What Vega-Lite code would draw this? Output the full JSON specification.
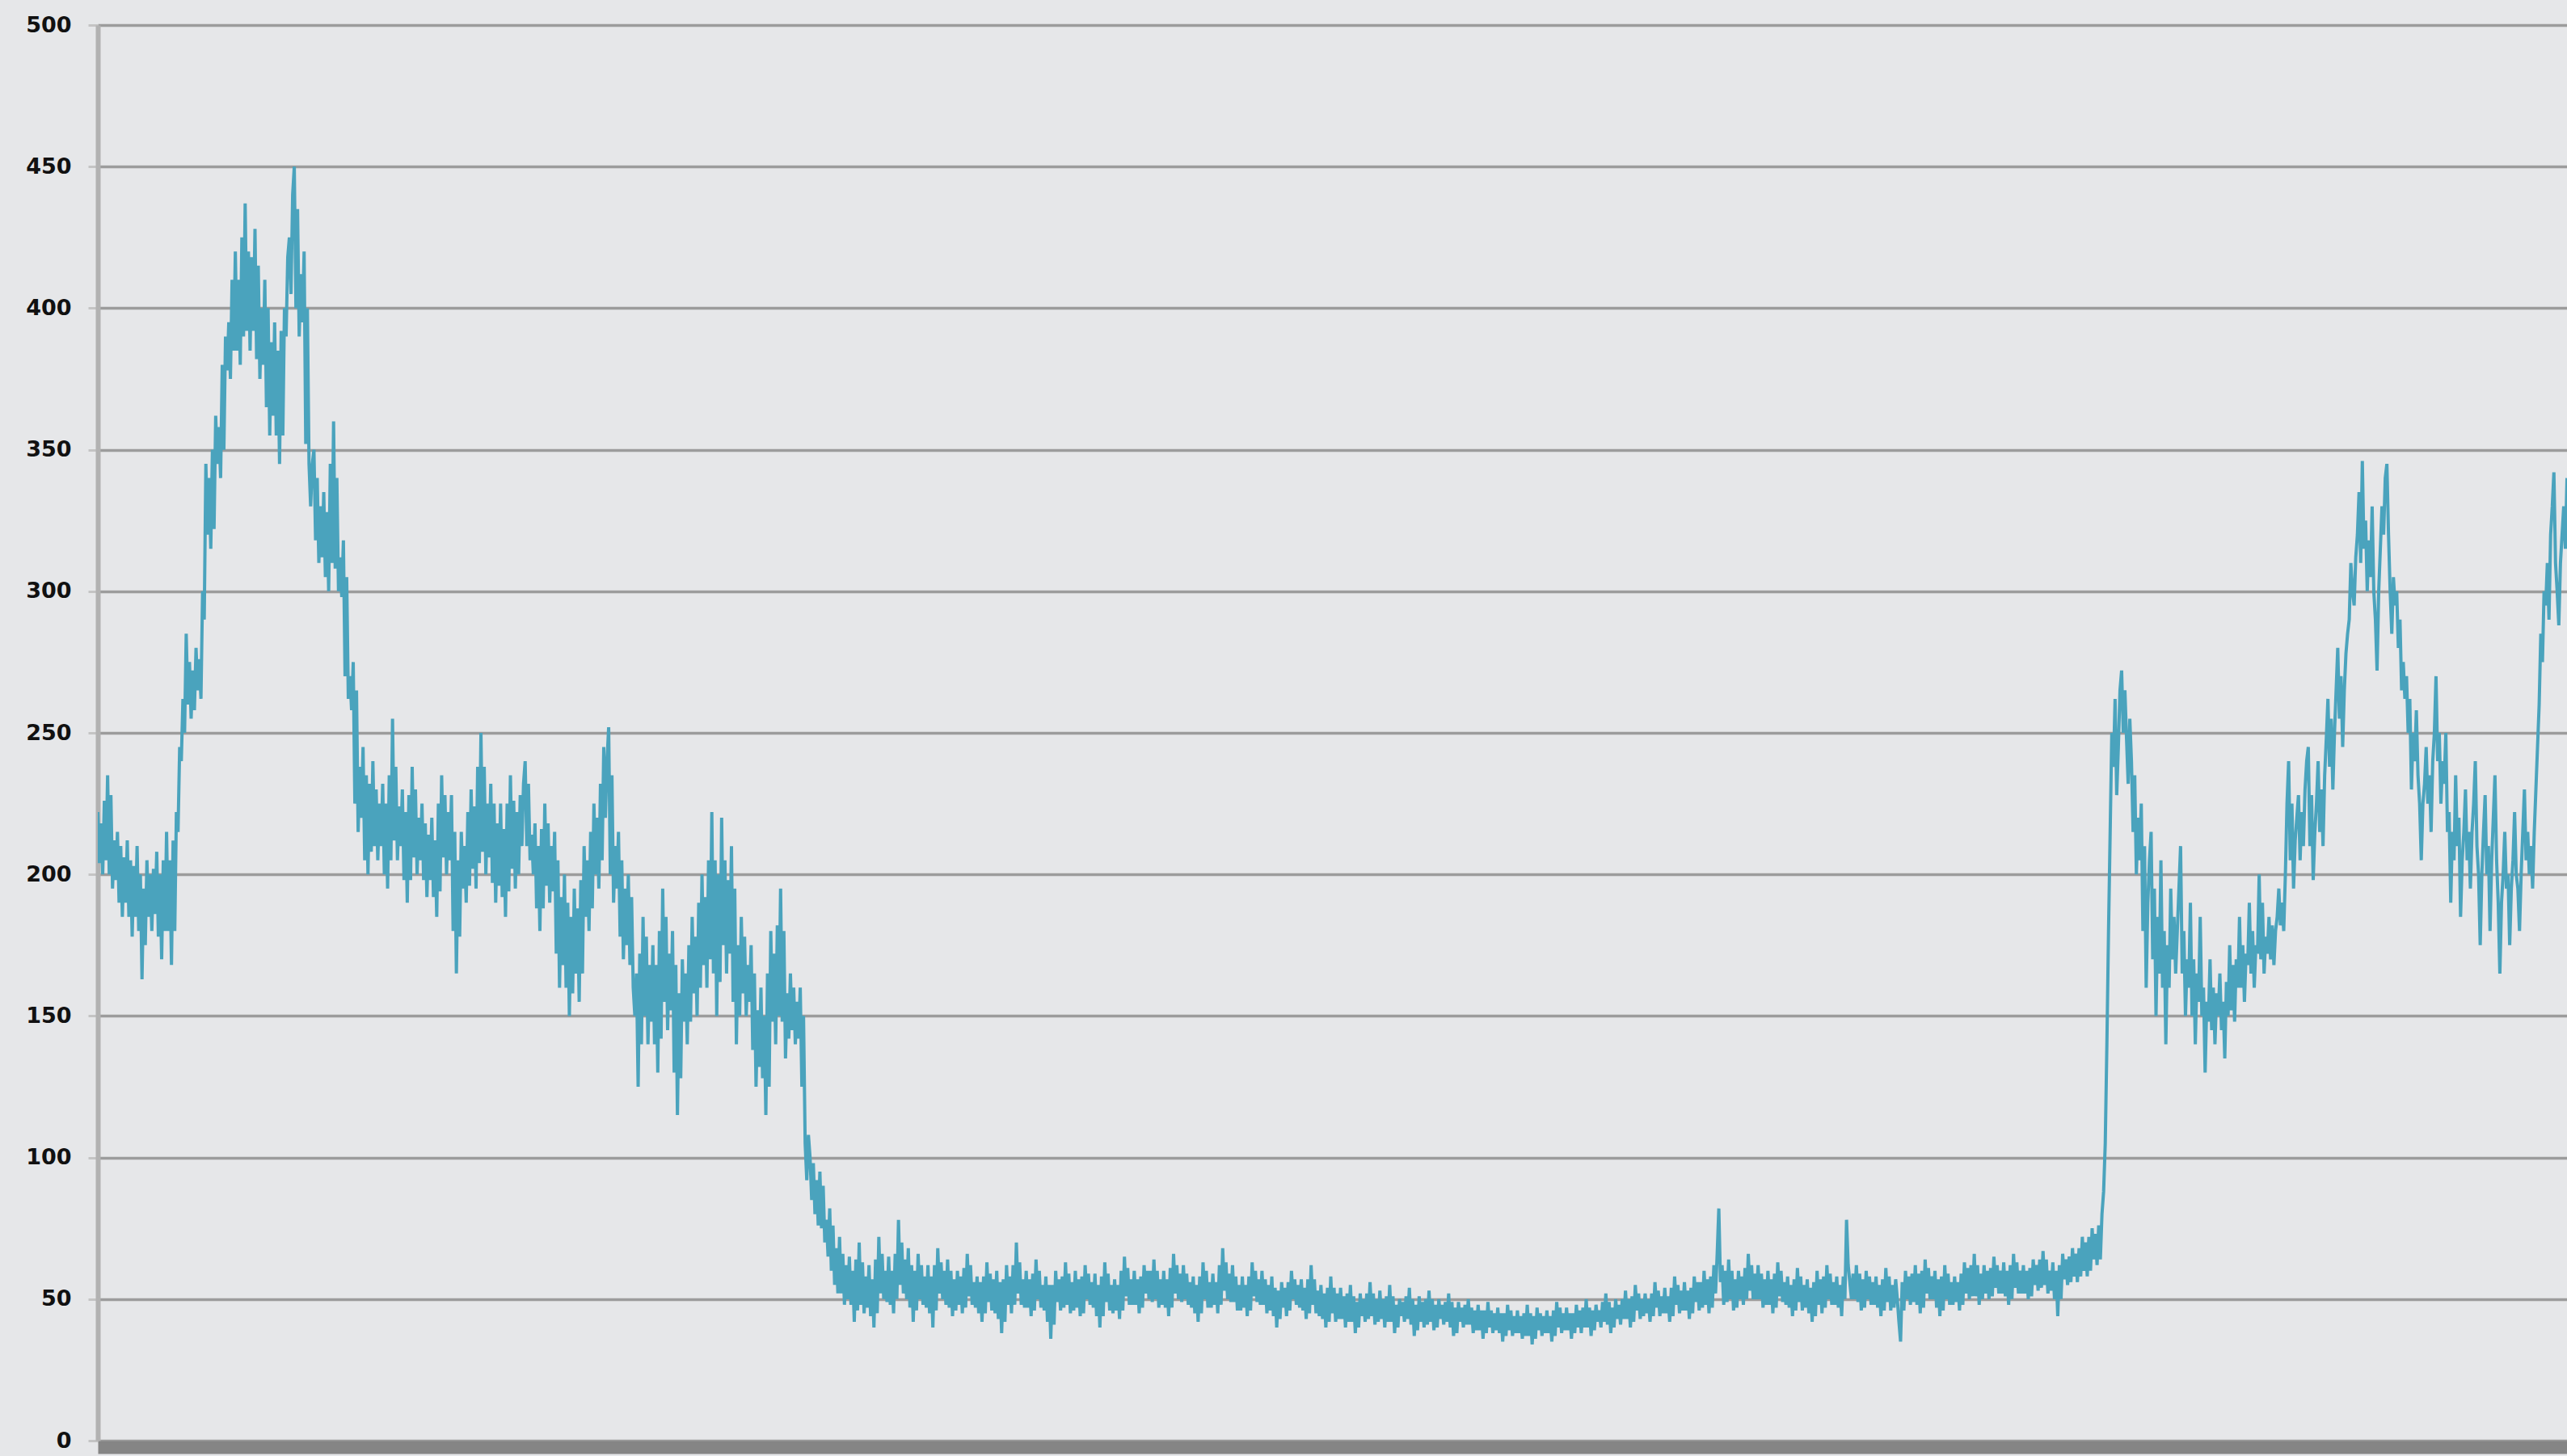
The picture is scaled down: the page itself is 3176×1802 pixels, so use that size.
{
  "$schema": "https://vega.github.io/schema/vega-lite/v6.json",
  "width": 3055,
  "height": 1752,
  "autosize": {"type": "none"},
  "padding": {"left": 121, "top": 31, "right": 0, "bottom": 19},
  "background": "#e6e7e9",
  "config": {"view": {"stroke": null, "fill": "#e6e7e9"}},
  "data": {"values": [
{"t":60,"v":222},{"t":61,"v":204},{"t":62,"v":218},{"t":63,"v":200},{"t":64,"v":226},{"t":65,"v":205},{"t":66,"v":235},{"t":67,"v":200},{"t":68,"v":228},{"t":69,"v":195},{"t":70,"v":212},{"t":71,"v":198},{"t":72,"v":215},{"t":73,"v":190},{"t":74,"v":210},{"t":75,"v":185},{"t":76,"v":206},{"t":77,"v":190},{"t":78,"v":212},{"t":79,"v":185},{"t":80,"v":205},{"t":81,"v":178},{"t":82,"v":203},{"t":83,"v":185},{"t":84,"v":210},{"t":85,"v":180},{"t":86,"v":200},{"t":87,"v":163},{"t":88,"v":195},{"t":89,"v":175},{"t":90,"v":205},{"t":91,"v":185},{"t":92,"v":200},{"t":93,"v":180},{"t":94,"v":202},{"t":95,"v":186},{"t":96,"v":208},{"t":97,"v":178},{"t":98,"v":200},{"t":99,"v":170},{"t":100,"v":205},{"t":101,"v":180},{"t":102,"v":215},{"t":103,"v":180},{"t":104,"v":205},{"t":105,"v":168},{"t":106,"v":212},{"t":107,"v":180},{"t":108,"v":222},{"t":109,"v":215},{"t":110,"v":245},
{"t":111,"v":240},{"t":112,"v":262},{"t":113,"v":250},{"t":114,"v":285},{"t":115,"v":260},{"t":116,"v":275},{"t":117,"v":255},{"t":118,"v":272},{"t":119,"v":258},{"t":120,"v":280},{"t":121,"v":265},{"t":122,"v":276},{"t":123,"v":262},{"t":124,"v":300},{"t":125,"v":290},{"t":126,"v":345},{"t":127,"v":320},{"t":128,"v":340},{"t":129,"v":315},{"t":130,"v":350},{"t":131,"v":322},{"t":132,"v":362},{"t":133,"v":345},{"t":134,"v":358},{"t":135,"v":340},{"t":136,"v":380},{"t":137,"v":350},{"t":138,"v":390},{"t":139,"v":378},{"t":140,"v":395},{"t":141,"v":375},{"t":142,"v":410},{"t":143,"v":385},{"t":144,"v":420},{"t":145,"v":385},{"t":146,"v":410},{"t":147,"v":380},{"t":148,"v":425},{"t":149,"v":390},{"t":150,"v":437},{"t":151,"v":392},{"t":152,"v":420},{"t":153,"v":385},{"t":154,"v":418},{"t":155,"v":392},{"t":156,"v":428},{"t":157,"v":382},{"t":158,"v":415},{"t":159,"v":375},{"t":160,"v":400},{"t":161,"v":380},{"t":162,"v":410},{"t":163,"v":365},{"t":164,"v":400},{"t":165,"v":355},{"t":166,"v":388},{"t":167,"v":362},{"t":168,"v":395},{"t":169,"v":355},{"t":170,"v":385},{"t":171,"v":345},{"t":172,"v":392},{"t":173,"v":355},{"t":174,"v":400},{"t":175,"v":390},{"t":176,"v":418},{"t":177,"v":425},{"t":178,"v":405},{"t":179,"v":440},{"t":180,"v":450},{"t":181,"v":400},{"t":182,"v":435},{"t":183,"v":390},{"t":184,"v":412},{"t":185,"v":395},{"t":186,"v":420},{"t":187,"v":352},{"t":188,"v":400},{"t":189,"v":345},{"t":190,"v":330},{"t":191,"v":345},{"t":192,"v":350},{"t":193,"v":318},{"t":194,"v":340},{"t":195,"v":310},{"t":196,"v":330},{"t":197,"v":312},{"t":198,"v":335},{"t":199,"v":305},{"t":200,"v":328},{"t":201,"v":300},{"t":202,"v":345},{"t":203,"v":310},{"t":204,"v":360},{"t":205,"v":308},{"t":206,"v":340},{"t":207,"v":300},{"t":208,"v":312},{"t":209,"v":298},{"t":210,"v":318},{"t":211,"v":270},{"t":212,"v":305},{"t":213,"v":262},{"t":214,"v":270},{"t":215,"v":258},{"t":216,"v":275},{"t":217,"v":225},{"t":218,"v":265},{"t":219,"v":215},{"t":220,"v":238},{"t":221,"v":220},{"t":222,"v":245},{"t":223,"v":205},{"t":224,"v":235},{"t":225,"v":200},{"t":226,"v":232},{"t":227,"v":208},{"t":228,"v":240},{"t":229,"v":210},{"t":230,"v":230},{"t":231,"v":205},{"t":232,"v":225},{"t":233,"v":210},{"t":234,"v":232},{"t":235,"v":200},{"t":236,"v":225},{"t":237,"v":195},{"t":238,"v":235},{"t":239,"v":205},{"t":240,"v":255},{"t":241,"v":212},{"t":242,"v":238},{"t":243,"v":205},{"t":244,"v":224},{"t":245,"v":210},{"t":246,"v":230},{"t":247,"v":198},{"t":248,"v":222},{"t":249,"v":190},{"t":250,"v":228},{"t":251,"v":198},{"t":252,"v":238},{"t":253,"v":206},{"t":254,"v":230},{"t":255,"v":200},{"t":256,"v":220},{"t":257,"v":205},{"t":258,"v":225},{"t":259,"v":198},{"t":260,"v":218},{"t":261,"v":192},{"t":262,"v":214},{"t":263,"v":198},{"t":264,"v":220},{"t":265,"v":192},{"t":266,"v":212},{"t":267,"v":185},{"t":268,"v":225},{"t":269,"v":194},{"t":270,"v":235},{"t":271,"v":206},{"t":272,"v":228},{"t":273,"v":200},{"t":274,"v":222},{"t":275,"v":205},{"t":276,"v":228},{"t":277,"v":180},{"t":278,"v":215},{"t":279,"v":165},{"t":280,"v":205},{"t":281,"v":178},{"t":282,"v":215},{"t":283,"v":195},{"t":284,"v":210},{"t":285,"v":190},{"t":286,"v":222},{"t":287,"v":196},{"t":288,"v":230},{"t":289,"v":202},{"t":290,"v":224},{"t":291,"v":195},{"t":292,"v":238},{"t":293,"v":204},{"t":294,"v":250},{"t":295,"v":208},{"t":296,"v":238},{"t":297,"v":200},{"t":298,"v":225},{"t":299,"v":206},{"t":300,"v":232},{"t":301,"v":197},{"t":302,"v":225},{"t":303,"v":190},{"t":304,"v":218},{"t":305,"v":196},{"t":306,"v":225},{"t":307,"v":192},{"t":308,"v":216},{"t":309,"v":185},{"t":310,"v":225},{"t":311,"v":194},{"t":312,"v":235},{"t":313,"v":202},{"t":314,"v":226},{"t":315,"v":195},{"t":316,"v":222},{"t":317,"v":200},{"t":318,"v":228},{"t":319,"v":210},{"t":320,"v":232},{"t":321,"v":240},{"t":322,"v":210},{"t":323,"v":232},{"t":324,"v":205},{"t":325,"v":214},{"t":326,"v":200},{"t":327,"v":218},{"t":328,"v":188},{"t":329,"v":210},{"t":330,"v":180},{"t":331,"v":216},{"t":332,"v":188},{"t":333,"v":225},{"t":334,"v":196},{"t":335,"v":218},{"t":336,"v":190},{"t":337,"v":210},{"t":338,"v":194},{"t":339,"v":215},{"t":340,"v":172},{"t":341,"v":205},{"t":342,"v":160},{"t":343,"v":192},{"t":344,"v":168},{"t":345,"v":200},{"t":346,"v":160},{"t":347,"v":190},{"t":348,"v":150},{"t":349,"v":185},{"t":350,"v":158},{"t":351,"v":195},{"t":352,"v":165},{"t":353,"v":188},{"t":354,"v":155},{"t":355,"v":198},{"t":356,"v":165},{"t":357,"v":210},{"t":358,"v":185},{"t":359,"v":205},{"t":360,"v":180},{"t":361,"v":215},{"t":362,"v":188},{"t":363,"v":225},{"t":364,"v":200},{"t":365,"v":220},{"t":366,"v":195},{"t":367,"v":232},{"t":368,"v":205},{"t":369,"v":245},{"t":370,"v":220},{"t":371,"v":240},{"t":372,"v":252},{"t":373,"v":200},{"t":374,"v":235},{"t":375,"v":190},{"t":376,"v":210},{"t":377,"v":195},{"t":378,"v":215},{"t":379,"v":178},{"t":380,"v":205},{"t":381,"v":170},{"t":382,"v":195},{"t":383,"v":175},{"t":384,"v":200},{"t":385,"v":168},{"t":386,"v":192},{"t":387,"v":160},{"t":388,"v":150},{"t":389,"v":165},{"t":390,"v":125},{"t":391,"v":172},{"t":392,"v":140},{"t":393,"v":185},{"t":394,"v":150},{"t":395,"v":178},{"t":396,"v":140},{"t":397,"v":168},{"t":398,"v":148},{"t":399,"v":175},{"t":400,"v":140},{"t":401,"v":168},{"t":402,"v":130},{"t":403,"v":180},{"t":404,"v":142},{"t":405,"v":195},{"t":406,"v":155},{"t":407,"v":185},{"t":408,"v":145},{"t":409,"v":172},{"t":410,"v":152},{"t":411,"v":180},{"t":412,"v":130},{"t":413,"v":168},{"t":414,"v":115},{"t":415,"v":158},{"t":416,"v":128},{"t":417,"v":170},{"t":418,"v":148},{"t":419,"v":165},{"t":420,"v":140},{"t":421,"v":175},{"t":422,"v":148},{"t":423,"v":185},{"t":424,"v":158},{"t":425,"v":178},{"t":426,"v":150},{"t":427,"v":190},{"t":428,"v":160},{"t":429,"v":200},{"t":430,"v":168},{"t":431,"v":192},{"t":432,"v":160},{"t":433,"v":205},{"t":434,"v":170},{"t":435,"v":222},{"t":436,"v":165},{"t":437,"v":205},{"t":438,"v":150},{"t":439,"v":200},{"t":440,"v":162},{"t":441,"v":220},{"t":442,"v":175},{"t":443,"v":205},{"t":444,"v":165},{"t":445,"v":198},{"t":446,"v":172},{"t":447,"v":210},{"t":448,"v":155},{"t":449,"v":195},{"t":450,"v":140},{"t":451,"v":175},{"t":452,"v":150},{"t":453,"v":185},{"t":454,"v":158},{"t":455,"v":178},{"t":456,"v":150},{"t":457,"v":168},{"t":458,"v":155},{"t":459,"v":175},{"t":460,"v":138},{"t":461,"v":165},{"t":462,"v":125},{"t":463,"v":152},{"t":464,"v":132},{"t":465,"v":160},{"t":466,"v":128},{"t":467,"v":150},{"t":468,"v":115},{"t":469,"v":165},{"t":470,"v":125},{"t":471,"v":180},{"t":472,"v":148},{"t":473,"v":172},{"t":474,"v":140},{"t":475,"v":182},{"t":476,"v":150},{"t":477,"v":195},{"t":478,"v":148},{"t":479,"v":180},{"t":480,"v":135},{"t":481,"v":158},{"t":482,"v":142},{"t":483,"v":165},{"t":484,"v":145},{"t":485,"v":160},{"t":486,"v":140},{"t":487,"v":155},{"t":488,"v":142},{"t":489,"v":160},{"t":490,"v":125},{"t":491,"v":150},{"t":492,"v":105},{"t":493,"v":92},{"t":494,"v":108},{"t":495,"v":100},{"t":496,"v":85},{"t":497,"v":98},{"t":498,"v":80},{"t":499,"v":92},{"t":500,"v":76},{"t":501,"v":95},{"t":502,"v":75},{"t":503,"v":90},{"t":504,"v":70},{"t":505,"v":78},{"t":506,"v":65},{"t":507,"v":82},{"t":508,"v":60},{"t":509,"v":76},{"t":510,"v":55},{"t":511,"v":68},{"t":512,"v":52},{"t":513,"v":72},{"t":514,"v":52},{"t":515,"v":66},{"t":516,"v":48},{"t":517,"v":62},{"t":518,"v":50},{"t":519,"v":65},{"t":520,"v":48},{"t":521,"v":60},{"t":522,"v":42},{"t":523,"v":64},{"t":524,"v":46},{"t":525,"v":70},
{"t":526,"v":48},{"t":527,"v":63},{"t":528,"v":45},{"t":529,"v":58},{"t":530,"v":47},{"t":531,"v":62},{"t":532,"v":44},{"t":533,"v":57},{"t":534,"v":40},{"t":535,"v":64},{"t":536,"v":45},{"t":537,"v":72},{"t":538,"v":52},{"t":539,"v":66},{"t":540,"v":50},{"t":541,"v":60},{"t":542,"v":49},{"t":543,"v":65},{"t":544,"v":48},{"t":545,"v":60},{"t":546,"v":45},{"t":547,"v":66},{"t":548,"v":50},{"t":549,"v":78},{"t":550,"v":55},{"t":551,"v":70},{"t":552,"v":52},{"t":553,"v":64},{"t":554,"v":50},{"t":555,"v":68},{"t":556,"v":47},{"t":557,"v":62},{"t":558,"v":42},{"t":559,"v":60},{"t":560,"v":46},{"t":561,"v":66},{"t":562,"v":50},{"t":563,"v":62},{"t":564,"v":48},{"t":565,"v":58},{"t":566,"v":47},{"t":567,"v":62},{"t":568,"v":45},{"t":569,"v":58},{"t":570,"v":40},{"t":571,"v":62},{"t":572,"v":46},{"t":573,"v":68},{"t":574,"v":52},{"t":575,"v":63},{"t":576,"v":50},{"t":577,"v":60},{"t":578,"v":48},{"t":579,"v":64},{"t":580,"v":47},{"t":581,"v":60},{"t":582,"v":44},{"t":583,"v":57},{"t":584,"v":46},{"t":585,"v":60},{"t":586,"v":48},{"t":587,"v":58},{"t":588,"v":45},{"t":589,"v":61},{"t":590,"v":47},{"t":591,"v":66},{"t":592,"v":51},{"t":593,"v":62},{"t":594,"v":48},{"t":595,"v":56},{"t":596,"v":47},{"t":597,"v":58},{"t":598,"v":45},{"t":599,"v":56},{"t":600,"v":42},{"t":601,"v":58},{"t":602,"v":45},{"t":603,"v":63},{"t":604,"v":49},{"t":605,"v":59},{"t":606,"v":46},{"t":607,"v":57},{"t":608,"v":45},{"t":609,"v":60},{"t":610,"v":43},{"t":611,"v":56},{"t":612,"v":38},{"t":613,"v":57},{"t":614,"v":42},{"t":615,"v":62},{"t":616,"v":48},{"t":617,"v":58},{"t":618,"v":45},{"t":619,"v":62},{"t":620,"v":48},{"t":621,"v":70},{"t":622,"v":52},{"t":623,"v":63},{"t":624,"v":48},{"t":625,"v":57},{"t":626,"v":47},{"t":627,"v":60},{"t":628,"v":47},{"t":629,"v":57},{"t":630,"v":44},{"t":631,"v":59},{"t":632,"v":46},{"t":633,"v":64},{"t":634,"v":50},{"t":635,"v":60},{"t":636,"v":47},{"t":637,"v":55},{"t":638,"v":46},{"t":639,"v":58},{"t":640,"v":42},{"t":641,"v":55},{"t":642,"v":36},{"t":643,"v":55},{"t":644,"v":41},{"t":645,"v":60},{"t":646,"v":49},{"t":647,"v":57},{"t":648,"v":46},{"t":649,"v":58},{"t":650,"v":47},{"t":651,"v":63},{"t":652,"v":48},{"t":653,"v":59},{"t":654,"v":45},{"t":655,"v":56},{"t":656,"v":46},{"t":657,"v":60},{"t":658,"v":47},{"t":659,"v":57},{"t":660,"v":44},{"t":661,"v":58},{"t":662,"v":45},{"t":663,"v":62},{"t":664,"v":50},{"t":665,"v":59},{"t":666,"v":48},{"t":667,"v":56},{"t":668,"v":47},{"t":669,"v":59},{"t":670,"v":44},{"t":671,"v":55},{"t":672,"v":40},{"t":673,"v":58},{"t":674,"v":44},{"t":675,"v":63},{"t":676,"v":49},{"t":677,"v":59},{"t":678,"v":46},{"t":679,"v":55},{"t":680,"v":45},{"t":681,"v":57},{"t":682,"v":46},{"t":683,"v":55},{"t":684,"v":43},{"t":685,"v":60},{"t":686,"v":46},{"t":687,"v":65},{"t":688,"v":51},{"t":689,"v":61},{"t":690,"v":48},{"t":691,"v":57},{"t":692,"v":48},{"t":693,"v":60},{"t":694,"v":48},{"t":695,"v":57},{"t":696,"v":45},{"t":697,"v":58},{"t":698,"v":47},{"t":699,"v":62},{"t":700,"v":52},{"t":701,"v":60},{"t":702,"v":50},{"t":703,"v":60},{"t":704,"v":49},{"t":705,"v":64},{"t":706,"v":50},{"t":707,"v":60},{"t":708,"v":47},{"t":709,"v":57},{"t":710,"v":48},{"t":711,"v":60},{"t":712,"v":47},{"t":713,"v":57},{"t":714,"v":44},{"t":715,"v":61},{"t":716,"v":47},{"t":717,"v":66},{"t":718,"v":52},{"t":719,"v":62},{"t":720,"v":50},{"t":721,"v":59},{"t":722,"v":49},{"t":723,"v":62},{"t":724,"v":50},{"t":725,"v":59},{"t":726,"v":48},{"t":727,"v":56},{"t":728,"v":47},{"t":729,"v":58},{"t":730,"v":45},{"t":731,"v":55},{"t":732,"v":42},{"t":733,"v":58},{"t":734,"v":45},{"t":735,"v":63},{"t":736,"v":50},{"t":737,"v":60},{"t":738,"v":47},{"t":739,"v":56},{"t":740,"v":47},{"t":741,"v":59},{"t":742,"v":48},{"t":743,"v":56},{"t":744,"v":45},{"t":745,"v":62},{"t":746,"v":48},{"t":747,"v":68},{"t":748,"v":53},{"t":749,"v":63},{"t":750,"v":50},{"t":751,"v":59},{"t":752,"v":49},{"t":753,"v":62},{"t":754,"v":49},{"t":755,"v":58},{"t":756,"v":46},{"t":757,"v":55},{"t":758,"v":46},{"t":759,"v":58},{"t":760,"v":47},{"t":761,"v":55},{"t":762,"v":44},{"t":763,"v":58},{"t":764,"v":46},{"t":765,"v":63},{"t":766,"v":51},{"t":767,"v":60},{"t":768,"v":49},{"t":769,"v":57},{"t":770,"v":48},{"t":771,"v":60},{"t":772,"v":48},{"t":773,"v":57},{"t":774,"v":45},{"t":775,"v":55},{"t":776,"v":46},{"t":777,"v":58},{"t":778,"v":44},{"t":779,"v":54},{"t":780,"v":40},{"t":781,"v":53},{"t":782,"v":43},{"t":783,"v":56},{"t":784,"v":47},{"t":785,"v":54},{"t":786,"v":44},{"t":787,"v":56},{"t":788,"v":46},{"t":789,"v":60},{"t":790,"v":50},{"t":791,"v":57},{"t":792,"v":48},{"t":793,"v":55},{"t":794,"v":47},{"t":795,"v":57},{"t":796,"v":46},{"t":797,"v":54},{"t":798,"v":43},{"t":799,"v":57},{"t":800,"v":45},{"t":801,"v":62},{"t":802,"v":48},{"t":803,"v":57},{"t":804,"v":45},{"t":805,"v":53},{"t":806,"v":44},{"t":807,"v":55},{"t":808,"v":43},{"t":809,"v":52},{"t":810,"v":40},{"t":811,"v":54},{"t":812,"v":42},{"t":813,"v":58},{"t":814,"v":45},{"t":815,"v":54},{"t":816,"v":42},{"t":817,"v":52},{"t":818,"v":43},{"t":819,"v":54},{"t":820,"v":43},{"t":821,"v":51},{"t":822,"v":40},{"t":823,"v":52},{"t":824,"v":42},{"t":825,"v":55},{"t":826,"v":42},{"t":827,"v":51},{"t":828,"v":38},{"t":829,"v":49},{"t":830,"v":40},{"t":831,"v":52},{"t":832,"v":44},{"t":833,"v":50},{"t":834,"v":42},{"t":835,"v":52},{"t":836,"v":43},{"t":837,"v":56},{"t":838,"v":44},{"t":839,"v":52},{"t":840,"v":41},{"t":841,"v":50},{"t":842,"v":42},{"t":843,"v":53},{"t":844,"v":43},{"t":845,"v":50},{"t":846,"v":40},{"t":847,"v":51},{"t":848,"v":42},{"t":849,"v":55},{"t":850,"v":42},{"t":851,"v":51},{"t":852,"v":38},{"t":853,"v":48},{"t":854,"v":40},{"t":855,"v":50},{"t":856,"v":44},{"t":857,"v":49},{"t":858,"v":42},{"t":859,"v":51},{"t":860,"v":43},{"t":861,"v":54},{"t":862,"v":41},{"t":863,"v":50},{"t":864,"v":37},{"t":865,"v":48},{"t":866,"v":39},{"t":867,"v":51},{"t":868,"v":42},{"t":869,"v":49},{"t":870,"v":40},{"t":871,"v":50},{"t":872,"v":41},{"t":873,"v":53},{"t":874,"v":42},{"t":875,"v":50},{"t":876,"v":39},{"t":877,"v":48},{"t":878,"v":40},{"t":879,"v":50},{"t":880,"v":43},{"t":881,"v":48},{"t":882,"v":41},{"t":883,"v":49},{"t":884,"v":42},{"t":885,"v":52},{"t":886,"v":40},{"t":887,"v":49},{"t":888,"v":37},{"t":889,"v":47},{"t":890,"v":38},{"t":891,"v":49},{"t":892,"v":42},{"t":893,"v":47},{"t":894,"v":40},{"t":895,"v":48},{"t":896,"v":41},{"t":897,"v":50},{"t":898,"v":41},{"t":899,"v":47},{"t":900,"v":38},{"t":901,"v":46},{"t":902,"v":39},{"t":903,"v":48},{"t":904,"v":39},{"t":905,"v":46},{"t":906,"v":36},{"t":907,"v":46},{"t":908,"v":38},{"t":909,"v":49},{"t":910,"v":40},{"t":911,"v":46},{"t":912,"v":38},{"t":913,"v":45},{"t":914,"v":39},{"t":915,"v":47},{"t":916,"v":38},{"t":917,"v":45},{"t":918,"v":35},{"t":919,"v":45},{"t":920,"v":37},{"t":921,"v":48},{"t":922,"v":39},{"t":923,"v":46},{"t":924,"v":37},{"t":925,"v":44},{"t":926,"v":38},{"t":927,"v":46},{"t":928,"v":38},{"t":929,"v":44},{"t":930,"v":36},{"t":931,"v":45},{"t":932,"v":37},{"t":933,"v":48},{"t":934,"v":37},{"t":935,"v":45},{"t":936,"v":34},{"t":937,"v":44},{"t":938,"v":36},{"t":939,"v":47},{"t":940,"v":39},{"t":941,"v":45},{"t":942,"v":37},{"t":943,"v":44},{"t":944,"v":38},{"t":945,"v":46},{"t":946,"v":38},{"t":947,"v":44},{"t":948,"v":35},{"t":949,"v":46},{"t":950,"v":37},{"t":951,"v":49},{"t":952,"v":40},{"t":953,"v":47},{"t":954,"v":38},{"t":955,"v":45},{"t":956,"v":39},{"t":957,"v":47},{"t":958,"v":39},{"t":959,"v":45},{"t":960,"v":36},{"t":961,"v":45},{"t":962,"v":38},{"t":963,"v":48},{"t":964,"v":40},{"t":965,"v":46},{"t":966,"v":38},{"t":967,"v":47},{"t":968,"v":40},{"t":969,"v":50},{"t":970,"v":40},{"t":971,"v":47},{"t":972,"v":37},{"t":973,"v":46},{"t":974,"v":39},{"t":975,"v":48},{"t":976,"v":42},{"t":977,"v":46},{"t":978,"v":40},{"t":979,"v":49},{"t":980,"v":42},{"t":981,"v":52},{"t":982,"v":41},{"t":983,"v":49},{"t":984,"v":38},{"t":985,"v":47},{"t":986,"v":40},{"t":987,"v":50},{"t":988,"v":43},{"t":989,"v":48},{"t":990,"v":41},{"t":991,"v":50},{"t":992,"v":43},{"t":993,"v":53},{"t":994,"v":43},{"t":995,"v":50},{"t":996,"v":40},{"t":997,"v":51},{"t":998,"v":42},{"t":999,"v":55},{"t":1000,"v":46},{"t":1001,"v":52},{"t":1002,"v":43},{"t":1003,"v":50},{"t":1004,"v":44},{"t":1005,"v":52},{"t":1006,"v":45},{"t":1007,"v":50},{"t":1008,"v":42},{"t":1009,"v":52},{"t":1010,"v":44},{"t":1011,"v":56},{"t":1012,"v":47},{"t":1013,"v":53},{"t":1014,"v":44},{"t":1015,"v":51},{"t":1016,"v":45},{"t":1017,"v":54},{"t":1018,"v":45},{"t":1019,"v":51},{"t":1020,"v":42},{"t":1021,"v":54},{"t":1022,"v":44},{"t":1023,"v":58},{"t":1024,"v":48},{"t":1025,"v":55},{"t":1026,"v":45},{"t":1027,"v":53},{"t":1028,"v":46},{"t":1029,"v":56},{"t":1030,"v":46},{"t":1031,"v":53},{"t":1032,"v":43},{"t":1033,"v":54},{"t":1034,"v":45},{"t":1035,"v":58},{"t":1036,"v":49},{"t":1037,"v":56},{"t":1038,"v":46},{"t":1039,"v":56},{"t":1040,"v":47},{"t":1041,"v":60},{"t":1042,"v":48},{"t":1043,"v":57},{"t":1044,"v":45},{"t":1045,"v":58},{"t":1046,"v":47},{"t":1047,"v":62},{"t":1048,"v":52},{"t":1049,"v":66},{"t":1050,"v":82},{"t":1051,"v":56},{"t":1052,"v":62},{"t":1053,"v":48},{"t":1054,"v":60},{"t":1055,"v":49},{"t":1056,"v":64},{"t":1057,"v":50},{"t":1058,"v":60},{"t":1059,"v":46},{"t":1060,"v":57},{"t":1061,"v":47},{"t":1062,"v":60},{"t":1063,"v":50},{"t":1064,"v":58},{"t":1065,"v":48},{"t":1066,"v":61},{"t":1067,"v":50},{"t":1068,"v":66},{"t":1069,"v":53},{"t":1070,"v":62},{"t":1071,"v":50},{"t":1072,"v":59},{"t":1073,"v":50},{"t":1074,"v":62},{"t":1075,"v":50},{"t":1076,"v":59},{"t":1077,"v":47},{"t":1078,"v":57},{"t":1079,"v":48},{"t":1080,"v":60},{"t":1081,"v":48},{"t":1082,"v":57},{"t":1083,"v":45},{"t":1084,"v":59},{"t":1085,"v":47},{"t":1086,"v":63},{"t":1087,"v":51},{"t":1088,"v":60},{"t":1089,"v":49},{"t":1090,"v":56},{"t":1091,"v":48},{"t":1092,"v":58},{"t":1093,"v":47},{"t":1094,"v":55},{"t":1095,"v":44},{"t":1096,"v":57},{"t":1097,"v":46},{"t":1098,"v":61},{"t":1099,"v":49},{"t":1100,"v":58},{"t":1101,"v":46},{"t":1102,"v":55},{"t":1103,"v":47},{"t":1104,"v":57},{"t":1105,"v":45},{"t":1106,"v":54},{"t":1107,"v":42},{"t":1108,"v":56},{"t":1109,"v":44},{"t":1110,"v":60},{"t":1111,"v":48},{"t":1112,"v":57},{"t":1113,"v":45},{"t":1114,"v":58},{"t":1115,"v":47},{"t":1116,"v":62},{"t":1117,"v":50},{"t":1118,"v":59},{"t":1119,"v":48},{"t":1120,"v":56},{"t":1121,"v":48},{"t":1122,"v":58},{"t":1123,"v":47},{"t":1124,"v":55},{"t":1125,"v":44},{"t":1126,"v":58},{"t":1127,"v":50},{"t":1128,"v":78},{"t":1129,"v":62},{"t":1130,"v":56},{"t":1131,"v":50},{"t":1132,"v":59},{"t":1133,"v":50},{"t":1134,"v":62},{"t":1135,"v":49},{"t":1136,"v":59},{"t":1137,"v":46},{"t":1138,"v":57},{"t":1139,"v":47},{"t":1140,"v":60},{"t":1141,"v":50},{"t":1142,"v":58},{"t":1143,"v":48},{"t":1144,"v":56},{"t":1145,"v":48},{"t":1146,"v":58},{"t":1147,"v":47},{"t":1148,"v":55},{"t":1149,"v":44},{"t":1150,"v":57},{"t":1151,"v":46},{"t":1152,"v":61},{"t":1153,"v":49},{"t":1154,"v":58},{"t":1155,"v":46},{"t":1156,"v":55},{"t":1157,"v":47},{"t":1158,"v":57},{"t":1159,"v":50},{"t":1160,"v":42},{"t":1161,"v":35},{"t":1162,"v":56},{"t":1163,"v":46},{"t":1164,"v":60},{"t":1165,"v":50},{"t":1166,"v":58},{"t":1167,"v":48},{"t":1168,"v":59},{"t":1169,"v":49},{"t":1170,"v":62},{"t":1171,"v":48},{"t":1172,"v":59},{"t":1173,"v":45},{"t":1174,"v":60},{"t":1175,"v":47},{"t":1176,"v":64},{"t":1177,"v":52},{"t":1178,"v":61},{"t":1179,"v":50},{"t":1180,"v":58},{"t":1181,"v":50},{"t":1182,"v":60},{"t":1183,"v":47},{"t":1184,"v":57},{"t":1185,"v":44},{"t":1186,"v":58},{"t":1187,"v":46},{"t":1188,"v":62},{"t":1189,"v":50},{"t":1190,"v":59},{"t":1191,"v":48},{"t":1192,"v":56},{"t":1193,"v":48},{"t":1194,"v":58},{"t":1195,"v":49},{"t":1196,"v":56},{"t":1197,"v":46},{"t":1198,"v":59},{"t":1199,"v":48},{"t":1200,"v":63},{"t":1201,"v":52},{"t":1202,"v":61},{"t":1203,"v":50},{"t":1204,"v":62},{"t":1205,"v":51},{"t":1206,"v":66},{"t":1207,"v":51},{"t":1208,"v":62},{"t":1209,"v":48},{"t":1210,"v":59},{"t":1211,"v":50},{"t":1212,"v":62},{"t":1213,"v":52},{"t":1214,"v":60},{"t":1215,"v":50},{"t":1216,"v":61},{"t":1217,"v":51},{"t":1218,"v":65},{"t":1219,"v":54},{"t":1220,"v":62},{"t":1221,"v":52},{"t":1222,"v":60},{"t":1223,"v":52},{"t":1224,"v":63},{"t":1225,"v":51},{"t":1226,"v":60},{"t":1227,"v":48},{"t":1228,"v":62},{"t":1229,"v":50},{"t":1230,"v":66},{"t":1231,"v":54},{"t":1232,"v":63},{"t":1233,"v":52},{"t":1234,"v":60},{"t":1235,"v":52},{"t":1236,"v":62},{"t":1237,"v":52},{"t":1238,"v":60},{"t":1239,"v":50},{"t":1240,"v":61},{"t":1241,"v":51},{"t":1242,"v":64},{"t":1243,"v":55},{"t":1244,"v":62},{"t":1245,"v":53},{"t":1246,"v":64},{"t":1247,"v":54},{"t":1248,"v":67},{"t":1249,"v":55},{"t":1250,"v":64},{"t":1251,"v":52},{"t":1252,"v":60},{"t":1253,"v":53},{"t":1254,"v":63},{"t":1255,"v":50},{"t":1256,"v":60},{"t":1257,"v":44},{"t":1258,"v":62},{"t":1259,"v":50},{"t":1260,"v":66},{"t":1261,"v":57},{"t":1262,"v":64},{"t":1263,"v":55},{"t":1264,"v":65},{"t":1265,"v":56},{"t":1266,"v":68},{"t":1267,"v":58},{"t":1268,"v":66},{"t":1269,"v":56},{"t":1270,"v":68},{"t":1271,"v":58},{"t":1272,"v":72},{"t":1273,"v":60},{"t":1274,"v":70},{"t":1275,"v":58},{"t":1276,"v":72},{"t":1277,"v":60},{"t":1278,"v":75},{"t":1279,"v":64},{"t":1280,"v":73},{"t":1281,"v":62},{"t":1282,"v":76},{"t":1283,"v":64},{"t":1284,"v":80},{"t":1285,"v":88},{"t":1286,"v":105},{"t":1287,"v":140},{"t":1288,"v":180},{"t":1289,"v":215},{"t":1290,"v":250},{"t":1291,"v":238},{"t":1292,"v":262},{"t":1293,"v":228},{"t":1294,"v":245},{"t":1295,"v":265},{"t":1296,"v":272},{"t":1297,"v":250},{"t":1298,"v":265},{"t":1299,"v":248},{"t":1300,"v":232},{"t":1301,"v":255},{"t":1302,"v":240},{"t":1303,"v":215},{"t":1304,"v":235},{"t":1305,"v":200},{"t":1306,"v":220},{"t":1307,"v":205},{"t":1308,"v":225},{"t":1309,"v":180},{"t":1310,"v":210},{"t":1311,"v":160},{"t":1312,"v":190},{"t":1313,"v":205},{"t":1314,"v":215},{"t":1315,"v":170},{"t":1316,"v":195},{"t":1317,"v":150},{"t":1318,"v":185},{"t":1319,"v":165},{"t":1320,"v":205},{"t":1321,"v":160},{"t":1322,"v":180},{"t":1323,"v":140},{"t":1324,"v":175},{"t":1325,"v":160},{"t":1326,"v":195},{"t":1327,"v":170},{"t":1328,"v":185},{"t":1329,"v":165},{"t":1330,"v":180},{"t":1331,"v":195},{"t":1332,"v":210},{"t":1333,"v":165},{"t":1334,"v":180},{"t":1335,"v":150},{"t":1336,"v":170},{"t":1337,"v":160},{"t":1338,"v":190},{"t":1339,"v":150},{"t":1340,"v":170},{"t":1341,"v":140},{"t":1342,"v":165},{"t":1343,"v":155},{"t":1344,"v":185},{"t":1345,"v":150},{"t":1346,"v":160},{"t":1347,"v":130},{"t":1348,"v":155},{"t":1349,"v":148},{"t":1350,"v":170},{"t":1351,"v":145},{"t":1352,"v":160},{"t":1353,"v":140},{"t":1354,"v":158},{"t":1355,"v":150},{"t":1356,"v":165},{"t":1357,"v":145},{"t":1358,"v":155},{"t":1359,"v":135},{"t":1360,"v":162},{"t":1361,"v":150},{"t":1362,"v":175},{"t":1363,"v":152},{"t":1364,"v":168},{"t":1365,"v":148},{"t":1366,"v":170},{"t":1367,"v":160},{"t":1368,"v":185},{"t":1369,"v":160},{"t":1370,"v":175},{"t":1371,"v":155},{"t":1372,"v":172},{"t":1373,"v":168},{"t":1374,"v":190},{"t":1375,"v":165},{"t":1376,"v":180},{"t":1377,"v":160},{"t":1378,"v":175},{"t":1379,"v":172},{"t":1380,"v":200},{"t":1381,"v":170},{"t":1382,"v":190},{"t":1383,"v":165},{"t":1384,"v":178},{"t":1385,"v":172},{"t":1386,"v":185},{"t":1387,"v":170},{"t":1388,"v":182},{"t":1389,"v":168},{"t":1390,"v":180},{"t":1391,"v":185},{"t":1392,"v":195},{"t":1393,"v":182},{"t":1394,"v":190},{"t":1395,"v":180},{"t":1396,"v":200},{"t":1397,"v":225},{"t":1398,"v":240},{"t":1399,"v":205},{"t":1400,"v":225},{"t":1401,"v":195},{"t":1402,"v":212},{"t":1403,"v":220},{"t":1404,"v":228},{"t":1405,"v":205},{"t":1406,"v":222},{"t":1407,"v":210},{"t":1408,"v":230},{"t":1409,"v":240},{"t":1410,"v":245},{"t":1411,"v":210},{"t":1412,"v":228},{"t":1413,"v":198},{"t":1414,"v":215},{"t":1415,"v":225},{"t":1416,"v":240},{"t":1417,"v":215},{"t":1418,"v":230},{"t":1419,"v":210},{"t":1420,"v":235},{"t":1421,"v":248},{"t":1422,"v":262},{"t":1423,"v":238},{"t":1424,"v":255},{"t":1425,"v":230},{"t":1426,"v":250},{"t":1427,"v":265},{"t":1428,"v":280},{"t":1429,"v":255},{"t":1430,"v":270},{"t":1431,"v":245},{"t":1432,"v":265},{"t":1433,"v":278},{"t":1434,"v":285},{"t":1435,"v":290},{"t":1436,"v":310},{"t":1437,"v":300},{"t":1438,"v":295},{"t":1439,"v":312},{"t":1440,"v":320},{"t":1441,"v":335},{"t":1442,"v":310},{"t":1443,"v":346},{"t":1444,"v":315},{"t":1445,"v":325},{"t":1446,"v":300},{"t":1447,"v":318},{"t":1448,"v":305},{"t":1449,"v":330},{"t":1450,"v":300},{"t":1451,"v":290},{"t":1452,"v":272},{"t":1453,"v":300},{"t":1454,"v":315},{"t":1455,"v":330},{"t":1456,"v":320},{"t":1457,"v":340},{"t":1458,"v":345},{"t":1459,"v":320},{"t":1460,"v":300},{"t":1461,"v":285},{"t":1462,"v":305},{"t":1463,"v":295},{"t":1464,"v":300},{"t":1465,"v":280},{"t":1466,"v":290},{"t":1467,"v":265},{"t":1468,"v":275},{"t":1469,"v":262},{"t":1470,"v":270},{"t":1471,"v":250},{"t":1472,"v":262},{"t":1473,"v":230},{"t":1474,"v":250},{"t":1475,"v":240},{"t":1476,"v":258},{"t":1477,"v":235},{"t":1478,"v":225},{"t":1479,"v":205},{"t":1480,"v":225},{"t":1481,"v":232},{"t":1482,"v":245},{"t":1483,"v":225},{"t":1484,"v":235},{"t":1485,"v":215},{"t":1486,"v":240},{"t":1487,"v":250},{"t":1488,"v":270},{"t":1489,"v":240},{"t":1490,"v":250},{"t":1491,"v":225},{"t":1492,"v":240},{"t":1493,"v":232},{"t":1494,"v":250},{"t":1495,"v":215},{"t":1496,"v":222},{"t":1497,"v":190},{"t":1498,"v":215},{"t":1499,"v":205},{"t":1500,"v":235},{"t":1501,"v":210},{"t":1502,"v":220},{"t":1503,"v":185},{"t":1504,"v":205},{"t":1505,"v":215},{"t":1506,"v":230},{"t":1507,"v":205},{"t":1508,"v":215},{"t":1509,"v":195},{"t":1510,"v":215},{"t":1511,"v":225},{"t":1512,"v":240},{"t":1513,"v":210},{"t":1514,"v":200},{"t":1515,"v":175},{"t":1516,"v":200},{"t":1517,"v":215},{"t":1518,"v":228},{"t":1519,"v":200},{"t":1520,"v":210},{"t":1521,"v":180},{"t":1522,"v":205},{"t":1523,"v":220},{"t":1524,"v":235},{"t":1525,"v":205},{"t":1526,"v":190},{"t":1527,"v":165},{"t":1528,"v":190},{"t":1529,"v":200},{"t":1530,"v":215},{"t":1531,"v":195},{"t":1532,"v":200},{"t":1533,"v":175},{"t":1534,"v":195},{"t":1535,"v":205},{"t":1536,"v":222},{"t":1537,"v":200},{"t":1538,"v":195},{"t":1539,"v":180},{"t":1540,"v":200},{"t":1541,"v":215},{"t":1542,"v":230},{"t":1543,"v":205},{"t":1544,"v":215},{"t":1545,"v":200},{"t":1546,"v":210},{"t":1547,"v":195},{"t":1548,"v":215},{"t":1549,"v":230},{"t":1550,"v":245},{"t":1551,"v":260},{"t":1552,"v":285},{"t":1553,"v":275},{"t":1554,"v":300},{"t":1555,"v":295},{"t":1556,"v":310},{"t":1557,"v":290},{"t":1558,"v":320},{"t":1559,"v":330},{"t":1560,"v":342},{"t":1561,"v":310},{"t":1562,"v":300},{"t":1563,"v":288},{"t":1564,"v":310},{"t":1565,"v":320},{"t":1566,"v":330},{"t":1567,"v":315},{"t":1568,"v":340}
  ]},
  "mark": {"type": "line", "color": "#4aa3bd", "strokeWidth": 4, "strokeJoin": "bevel", "clip": true},
  "encoding": {
    "x": {"field": "t", "type": "quantitative", "scale": {"domain": [60, 1568], "nice": false, "zero": false},
      "axis": {"title": null, "labels": false, "ticks": false, "grid": false, "domainColor": "#858585", "domainWidth": 16, "offset": 8}},
    "y": {"field": "v", "type": "quantitative", "scale": {"domain": [0, 500], "nice": false},
      "axis": {"title": null, "values": [0,50,100,150,200,250,300,350,400,450,500], "grid": true, "gridColor": "#9c9c9c", "gridWidth": 3.5, "gridOpacity": 1,
        "domainColor": "#b2b2b2", "domainWidth": 6, "tickColor": "#c4c4c4", "tickSize": 12, "tickWidth": 3, "labelPadding": 21,
        "labelFont": "DejaVu Sans", "labelFontWeight": "bold", "labelFontSize": 27, "labelColor": "#111111"}}
  }
}
